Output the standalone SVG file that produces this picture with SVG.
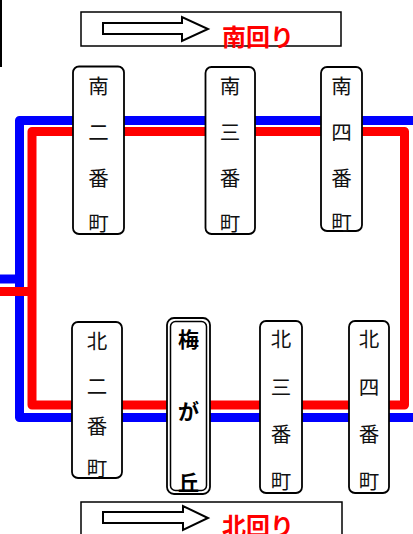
<svg xmlns="http://www.w3.org/2000/svg" width="413" height="534" viewBox="0 0 413 534">
<style>
.st{fill:#fff;stroke:#000;stroke-width:1.8}
.t{font-family:"Noto Sans CJK JP","Noto Sans CJK SC",sans-serif;font-size:20.5px;fill:#111;text-anchor:middle;dominant-baseline:central}
.tb{font-family:"Noto Sans CJK JP","Noto Sans CJK SC",sans-serif;font-size:21px;font-weight:bold;fill:#000;text-anchor:middle;dominant-baseline:central}
.dir{font-family:"Noto Sans CJK JP","Noto Sans CJK SC",sans-serif;font-size:24px;font-weight:bold;fill:#f00;dominant-baseline:central}
.arr{fill:#fff;stroke:#000;stroke-width:2;stroke-linejoin:miter}
.blue{fill:none;stroke:#00f;stroke-width:9;stroke-linejoin:round}
.red{fill:none;stroke:#f00;stroke-width:9;stroke-linejoin:round}
</style>
<line x1="1" y1="0" x2="1" y2="67" stroke="#000" stroke-width="2"/>
<g id="legend-south">
<rect x="81" y="12" width="260" height="34" fill="#fff" stroke="#000" stroke-width="1.5"/>
<polygon class="arr" points="103,23 182,23 182,17 208,29 182,41 182,34 103,34"/>
<text class="dir" x="222" y="35">南回り</text>
</g>
<g id="connectors">
<rect class="blue" x="19.5" y="120.5" width="400" height="297"/>
<line class="blue" x1="0" y1="279" x2="19.5" y2="279"/>
<rect class="red" x="32" y="131.5" width="372.5" height="273.5"/>
<line class="red" x1="0" y1="291.5" x2="32" y2="291.5"/>
</g>
<g id="minami2">
<rect class="st" x="73" y="66.5" width="51" height="167.5" rx="6"/>
<text class="t" x="98.5" y="85">南</text><text class="t" x="98.5" y="131">二</text><text class="t" x="98.5" y="177">番</text><text class="t" x="98.5" y="222">町</text>
</g>
<g id="minami3">
<rect class="st" x="205.5" y="67" width="49.5" height="167" rx="6"/>
<text class="t" x="230" y="85">南</text><text class="t" x="230" y="131">三</text><text class="t" x="230" y="177">番</text><text class="t" x="230" y="222">町</text>
</g>
<g id="minami4">
<rect class="st" x="321" y="67" width="41" height="164" rx="6"/>
<text class="t" x="341.5" y="85">南</text><text class="t" x="341.5" y="131">四</text><text class="t" x="341.5" y="177">番</text><text class="t" x="341.5" y="221">町</text>
</g>
<g id="kita2">
<rect class="st" x="72" y="322" width="50" height="156" rx="6"/>
<text class="t" x="97" y="340">北</text><text class="t" x="97" y="385">二</text><text class="t" x="97" y="425">番</text><text class="t" x="97" y="467">町</text>
</g>
<g id="umegaoka">
<rect class="st" x="167" y="318" width="43" height="176" rx="7"/>
<rect x="170.5" y="321.5" width="36" height="169" rx="5" fill="none" stroke="#000" stroke-width="1.5"/>
<text class="tb" x="188.5" y="338">梅</text><text class="tb" x="188.5" y="410">が</text><text class="tb" x="188.5" y="481">丘</text>
</g>
<g id="kita3">
<rect class="st" x="260" y="321" width="42" height="172" rx="6"/>
<text class="t" x="281" y="338">北</text><text class="t" x="281" y="386">三</text><text class="t" x="281" y="433">番</text><text class="t" x="281" y="480">町</text>
</g>
<g id="kita4">
<rect class="st" x="349" y="321" width="40" height="172" rx="6"/>
<text class="t" x="369" y="338">北</text><text class="t" x="369" y="386">四</text><text class="t" x="369" y="433">番</text><text class="t" x="369" y="480">町</text>
</g>
<g id="legend-north">
<rect x="81" y="502" width="261" height="40" fill="#fff" stroke="#000" stroke-width="1.5"/>
<polygon class="arr" points="103,512 183,512 183,506 208,518 183,530 183,523 103,523"/>
<text class="dir" x="222" y="524.5">北回り</text>
</g>
</svg>
